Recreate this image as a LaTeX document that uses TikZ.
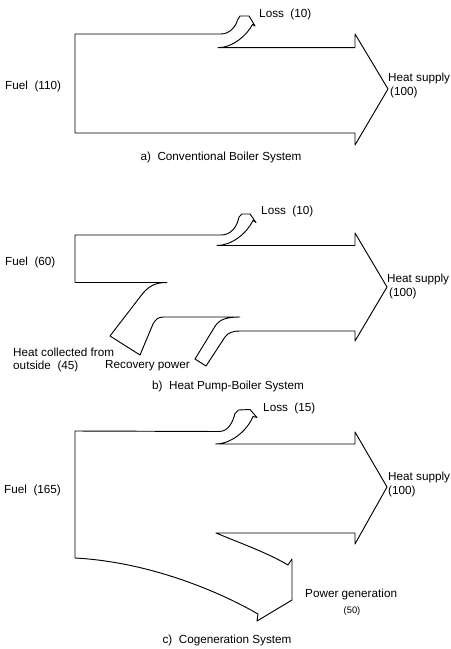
\documentclass[tikz,border=0pt]{standalone}
\usepackage{fontspec}
\setmainfont{Liberation Sans}
\usetikzlibrary{positioning}

\begin{document}
\begin{tikzpicture}[
    x=0.3mm, y=-0.3mm,          % 1単位 = 参照画像の1ピクセル
    flow/.style={line width=0.8pt, line join=round},
    lbl/.style={anchor=west, inner sep=0pt, font=\normalsize},
    cap_lbl/.style={inner sep=0pt, font=\normalsize}
]
    \useasboundingbox (0,0) rectangle (451,649);

    % --- 1. a) 従来型ボイラー ---
    \draw [flow] (75,34) -- (221,34) .. controls (230,34) and (236,26) .. (237.5,20)
        -- (240,16) -- (249,16) -- (255,26) -- (252.5,24.5)
        .. controls (247,35) and (233,47.7) .. (218,47.7)
        -- (355,47.7) -- (355,34) -- (388,89) -- (355,145) -- (355,133)
        -- (75,133) -- cycle;

    \node [lbl] (loss_a) at (259,14) {Loss\ \ (10)};
    \node [lbl] (fuel_a) at (5,86) {Fuel\ \ (110)};
    \node [lbl] (heat_a) at (388,78) {Heat supply};
    \node [lbl, below=3pt of heat_a.south west, anchor=north west] (heat_val_a) {\,(100)};
    \node [cap_lbl] (cap_a) at (221,157) {a)\ \ Conventional Boiler System};

    % --- 2. b) ヒートポンプ・ボイラー ---
    \draw [flow] (75,235) -- (221,235) .. controls (231,235) and (237,227) .. (239,217)
        -- (242,214) -- (250,214) -- (256,222.5) -- (253,220.5)
        .. controls (247,233) and (232,245.5) .. (217,245.5)
        -- (355,245.5) -- (355,233) -- (387,287) -- (355,341) -- (355,331)
        -- (240,331) .. controls (232,331) and (228,333) .. (225,337)
        -- (206,366) -- (195,359) -- (214,328) .. controls (218,321) and (223,317) .. (240,317)
        -- (164,317) .. controls (158,317) and (156,319) .. (153,324)
        -- (140,355) -- (110,336) -- (140,297) .. controls (148,286) and (155,282.5) .. (167,282.5)
        -- (75,282.5) -- cycle;

    \node [lbl] (loss_b) at (261,211) {Loss\ \ (10)};
    \node [lbl] (fuel_b) at (5,262) {Fuel\ \ (60)};
    \node [lbl] (heat_b) at (387,279) {Heat supply};
    \node [lbl, below=3pt of heat_b.south west, anchor=north west] (heat_val_b) {\,(100)};
    \node [lbl] (collect_b) at (13,352) {Heat collected from};
    \node [lbl] (collect_val_b) at (13,366) {outside\ \ (45)};
    \node [lbl] (recov_b) at (105,366) {Recovery power};
    \node [cap_lbl] (cap_b) at (228,386) {b)\ \ Heat Pump-Boiler System};

    % --- 3. c) コージェネレーション ---
    \draw [flow] (75,431) -- (219,431.5) .. controls (229,431.5) and (233,421) .. (235,413.5)
        -- (238.5,410) -- (250,409.5) -- (257,417.5) -- (253,416.5)
        .. controls (247,431) and (231,444) .. (215.5,444)
        -- (355,444) -- (355,432) -- (387,487) -- (355,544) -- (355,533)
        -- (216,533) .. controls (240,543) and (268,553) .. (288,565)
        -- (292,559) -- (292,600) -- (257,621) -- (258,614)
        .. controls (220,592) and (150,562) .. (75,558) -- cycle;

    \node [lbl] (loss_c) at (263,408) {Loss\ \ (15)};
    \node [lbl] (fuel_c) at (4,490) {Fuel\ \ (165)};
    \node [lbl] (heat_c) at (388,477) {Heat supply};
    \node [lbl, below=3pt of heat_c.south west, anchor=north west] (heat_val_c) {(100)};
    \node [lbl] (power_c) at (305,594) {Power generation};
    \node [inner sep=0pt, font=\footnotesize] (power_val_c) at (352,611) {(50)};
    \node [cap_lbl] (cap_c) at (227,640) {c)\ \ Cogeneration System};

\end{tikzpicture}
\end{document}
